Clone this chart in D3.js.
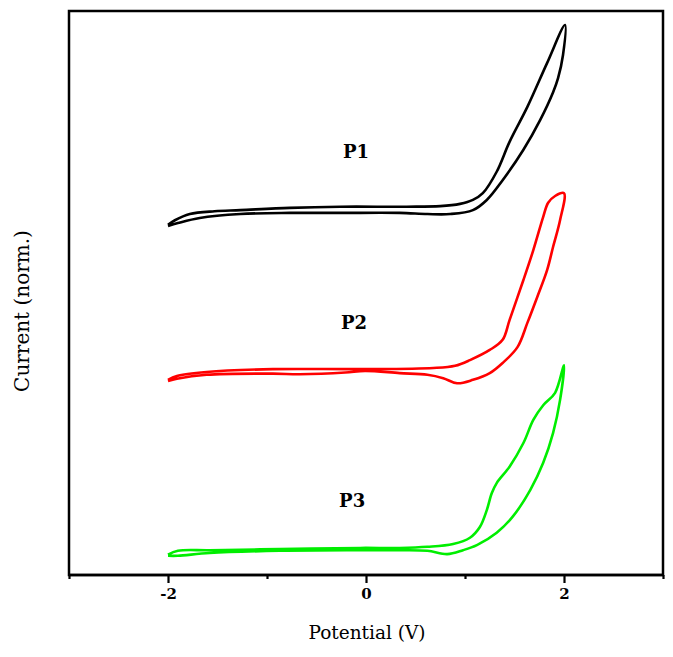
<!DOCTYPE html>
<html>
<head>
<meta charset="utf-8">
<script src="https://cdn.jsdelivr.net/npm/d3@7"></script>
<style>
  html, body { margin: 0; padding: 0; background: #fff; }
  svg { display: block; }
</style>
</head>
<body>
<svg id="chart" width="673" height="657"></svg>
<script>
// ---- Data (potential in V, normalized current with vertical offsets) ----
const seriesNames = ["P1", "P2", "P3"];
const seriesColors = ["#000000", "#ff0000", "#00ee00"];

const p1Potential = [-2.0,-1.93,-1.78,-1.53,-1.27,-0.77,-0.26,0.41,0.75,0.95,1.08,1.18,1.32,1.45,1.63,1.83,2.01,
                     1.99,1.94,1.89,1.76,1.59,1.38,1.22,1.08,0.85,0.62,0.34,-0.26,-0.77,-1.27,-1.68,-1.90,-2.0];
const p1Current   = [62.1,62.9,64.0,64.5,64.7,65.1,65.3,65.3,65.4,65.8,66.5,67.7,71.5,76.8,83.0,90.8,97.5,
                     92.2,88.1,85.6,80.7,75.4,70.0,66.5,64.7,64.0,64.0,64.2,64.2,64.2,64.0,63.3,62.4,61.9];

const p2Potential = [-2.0,-1.91,-1.61,-0.94,-0.06,0.68,0.90,1.05,1.25,1.38,1.45,1.59,1.69,1.79,1.84,1.91,2.0,
                     1.96,1.89,1.83,1.73,1.63,1.53,1.38,1.25,1.08,0.92,0.78,0.62,0.34,-0.01,-0.21,-0.67,-0.94,-1.61,-1.91,-2.0];
const p2Current   = [34.6,35.3,36.0,36.5,36.5,36.7,37.1,38.1,39.9,41.7,45.2,52.3,57.6,63.5,66.0,67.2,67.7,
                     62.9,58.2,54.1,49.3,44.7,40.4,37.6,35.8,34.6,34.0,34.9,35.5,35.8,36.2,35.9,35.6,35.7,35.5,34.8,34.4];

const p3Potential = [-2.0,-1.90,-1.58,-0.87,-0.06,0.34,0.62,0.88,1.05,1.15,1.22,1.27,1.32,1.45,1.59,1.69,1.79,1.91,2.0,
                     1.96,1.89,1.79,1.66,1.48,1.32,1.12,0.98,0.82,0.62,0.34,-0.06,-0.87,-1.58,-1.90,-2.0];
const p3Current   = [3.6,4.3,4.4,4.6,4.8,4.8,5.0,5.5,6.6,8.5,11.5,14.5,16.3,19.2,23.4,27.5,30.1,32.3,37.2,
                     31.0,25.2,19.9,15.1,10.3,7.5,5.3,4.4,3.7,4.3,4.4,4.4,4.3,3.9,3.4,3.4];

const labelPositions = [[-0.1, 73.9], [-0.12, 43.7], [-0.14, 12.0]]; // [V, current] where series names sit

const xTicks = [-3, -2, -1, 0, 1, 2, 3];
const xTickLabels = ["", "-2", "", "0", "", "2", ""];
const xDomain = [-3, 3];
const yDomain = [0, 100];

// ---- Layout ----
const svg = d3.select("#chart");
const mLeft = 69, mRight = 663, mTop = 11, mBottom = 575;

const x = d3.scaleLinear().domain(xDomain).range([mLeft, mRight]);
const y = d3.scaleLinear().domain(yDomain).range([mBottom, mTop]);

const serif = "'DejaVu Serif', 'Liberation Serif', serif";

// frame
svg.append("rect")
  .attr("x", mLeft).attr("y", mTop)
  .attr("width", mRight - mLeft).attr("height", mBottom - mTop)
  .attr("fill", "none").attr("stroke", "#000").attr("stroke-width", 2.5);

// x axis
const xAxis = d3.axisBottom(x)
  .tickValues(xTicks)
  .tickFormat((d, i) => xTickLabels[i])
  .tickSize(8)
  .tickPadding(5);

const gx = svg.append("g").attr("transform", `translate(0,${mBottom})`).call(xAxis);
gx.select(".domain").attr("stroke-width", 2.5).attr("d", `M${mLeft},0H${mRight}`);
gx.selectAll(".tick line")
  .attr("stroke-width", 2.2)
  .attr("y2", (d, i) => xTickLabels[i] === "" ? 4 : 8);
gx.selectAll(".tick text")
  .attr("font-family", serif)
  .attr("font-size", 15)
  .attr("font-weight", "bold")
  .attr("fill", "#000");

// axis titles
svg.append("text")
  .attr("x", (mLeft + mRight) / 2 + 1)
  .attr("y", 639)
  .attr("text-anchor", "middle")
  .attr("font-family", serif)
  .attr("font-size", 18.5)
  .text("Potential (V)");

svg.append("text")
  .attr("transform", "translate(29,311) rotate(-90)")
  .attr("text-anchor", "middle")
  .attr("font-family", serif)
  .attr("font-size", 20)
  .text("Current (norm.)");

// curves
const seriesData = [
  d3.zip(p1Potential, p1Current),
  d3.zip(p2Potential, p2Current),
  d3.zip(p3Potential, p3Current)
];

const line = d3.line()
  .x(d => x(d[0]))
  .y(d => y(d[1]))
  .curve(d3.curveCatmullRom.alpha(0.5));

svg.selectAll("path.cv")
  .data(seriesData)
  .join("path")
  .attr("class", "cv")
  .attr("d", line)
  .attr("fill", "none")
  .attr("stroke", (d, i) => seriesColors[i])
  .attr("stroke-width", 2.6)
  .attr("stroke-linejoin", "round");

// series labels
svg.selectAll("text.lbl")
  .data(seriesNames)
  .join("text")
  .attr("class", "lbl")
  .attr("x", (d, i) => x(labelPositions[i][0]))
  .attr("y", (d, i) => y(labelPositions[i][1]))
  .attr("text-anchor", "middle")
  .attr("font-family", serif)
  .attr("font-size", 18)
  .attr("font-weight", "bold")
  .attr("fill", "#000")
  .text(d => d);
</script>
</body>
</html>
